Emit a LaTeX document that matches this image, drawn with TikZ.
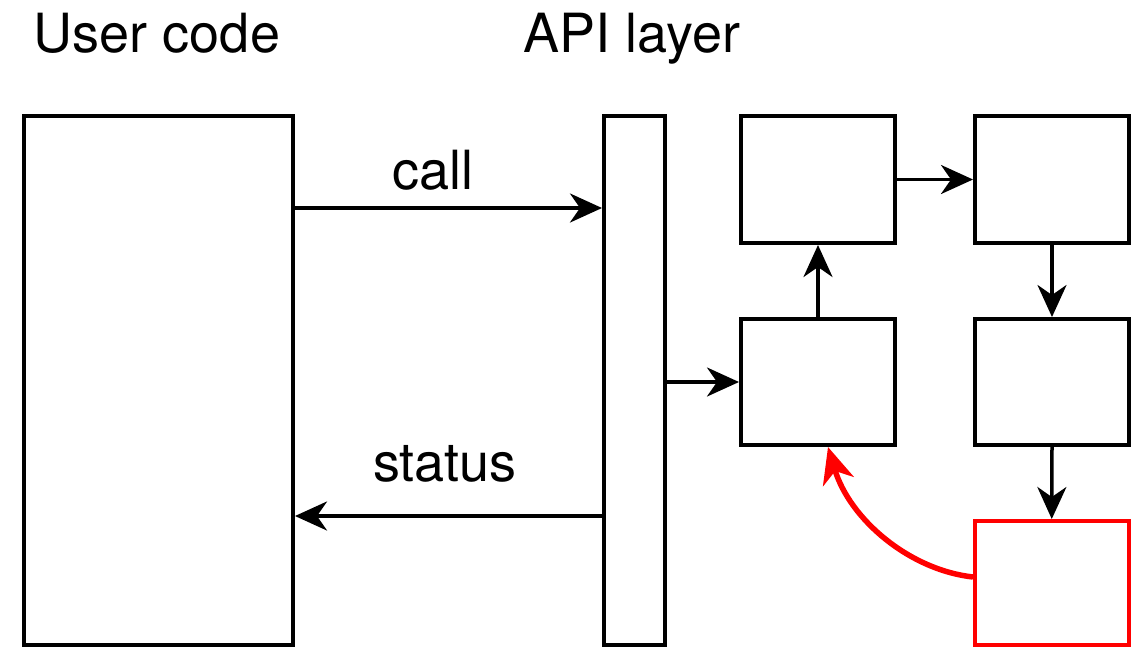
\documentclass[tikz,border=0pt]{standalone}
\usepackage{fontspec}
\setmainfont{TeX Gyre Heros}
\usetikzlibrary{arrows.meta}
\begin{document}
\begin{tikzpicture}[x=1pt,y=-1pt,
  box/.style={draw=black,line width=4pt,rectangle,inner sep=0pt,anchor=north west},
  arr/.style={line width=3.5pt,-{Stealth[length=32pt,width=29pt,inset=10pt]}},
  lbl/.style={font=\fontsize{54}{62}\selectfont,anchor=base,inner sep=0pt}]
\useasboundingbox (0,0) rectangle (1141,649);
% main blocks
\node[box,minimum width=269pt,minimum height=529pt] (user) at (22,114) {};
\node[box,minimum width=61pt,minimum height=529pt] (api) at (602,114) {};
% internal blocks
\node[box,minimum width=154pt,minimum height=127pt] (a) at (739,114) {};
\node[box,minimum width=154pt,minimum height=127pt] (b) at (973,114) {};
\node[box,minimum width=154pt,minimum height=126pt] (c) at (739,317) {};
\node[box,minimum width=154pt,minimum height=126pt] (d) at (973,317) {};
\node[box,draw=red,line width=3.5pt,minimum width=154pt,minimum height=124pt] (e) at (973,519) {};
% headings
\node[lbl] (tuser) at (157,52) {User code};
\node[lbl] (tapi) at (632,52) {API layer};
% call / status
\draw[arr] (user.east |- 0,208) -- (api.west |- 0,208);
\node[lbl] (lcall) at (433,189) {call};
\draw[arr] (api.west |- 0,516) -- (user.east |- 0,516);
\node[lbl] (lstatus) at (445,481) {status};
% internal flow
\draw[arr] (api.east |- c.west) -- (c.west);
\draw[arr] (c.north) -- (a.south);
\draw[arr] (a.east) -- (b.west);
\draw[arr] (b.south) -- (d.north);
\draw[arr] (d.south) -- (e.north);
% error path back
\draw[red,line width=5.5pt,-{Stealth[length=36pt,width=32pt,inset=11pt]}]
  (e.west |- 0,577) .. controls (910,570) and (850,520) .. ([xshift=10pt]c.south);
\end{tikzpicture}
\end{document}
